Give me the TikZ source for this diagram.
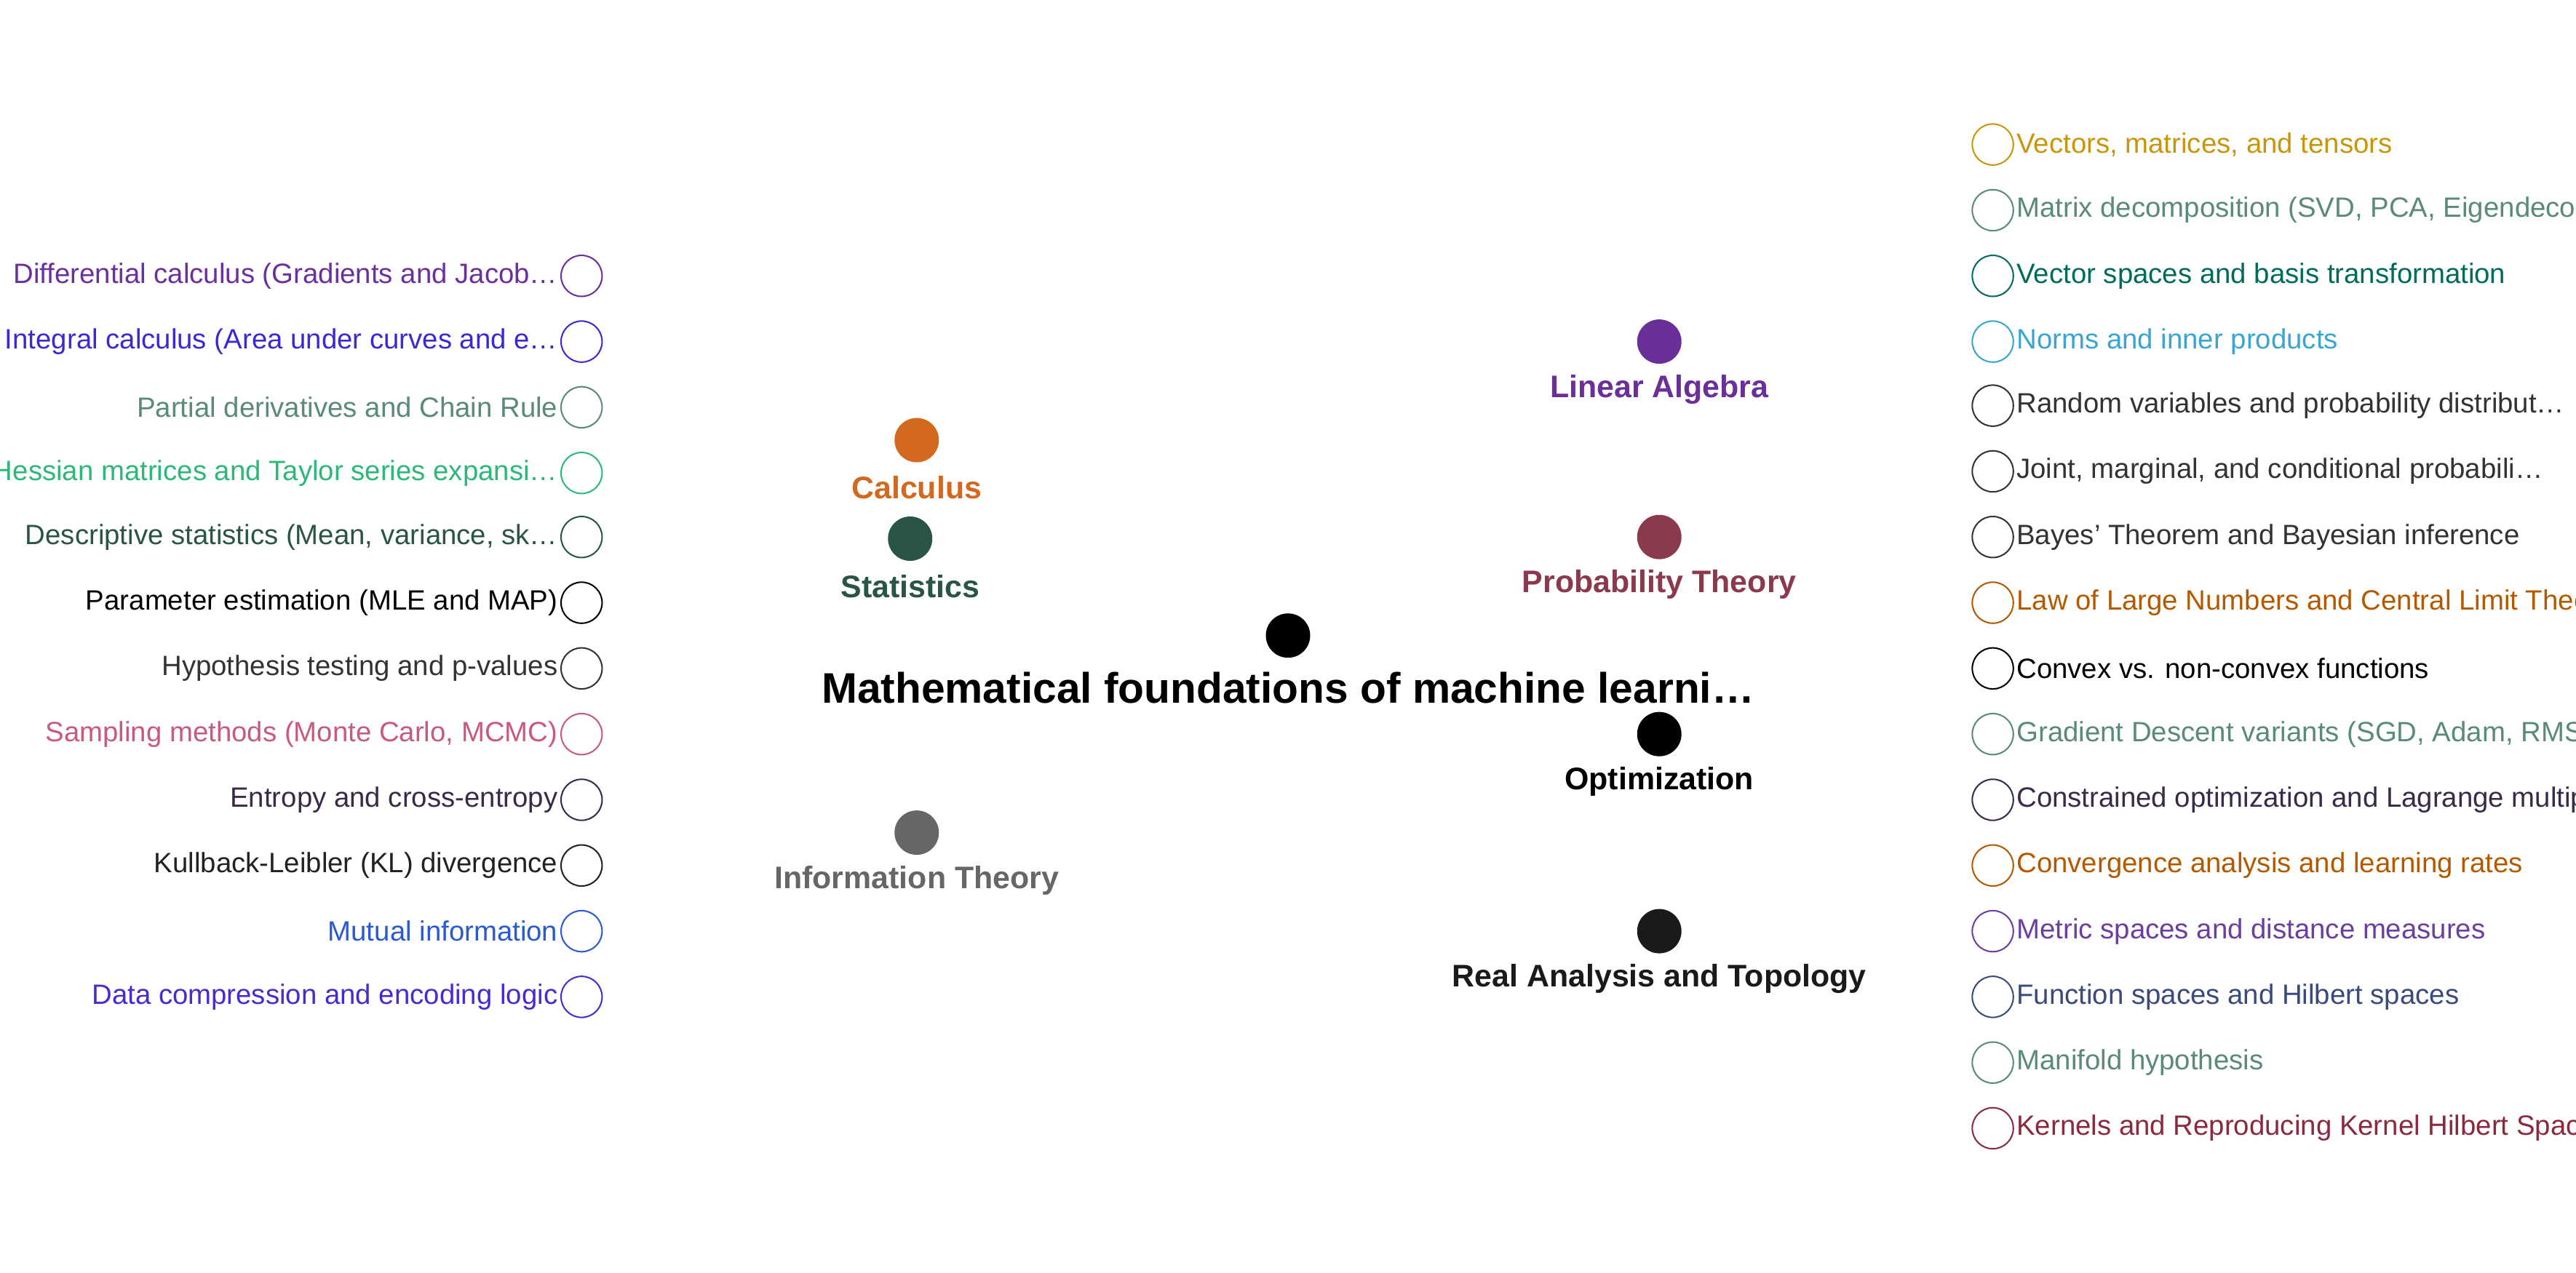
\documentclass[tikz,border=0pt]{standalone}
\usepackage{fontspec}
\setmainfont{Liberation Sans}
\usetikzlibrary{backgrounds,calc}
\begin{document}
\begin{tikzpicture}[x=1pt,y=-1pt,
  leaf/.style={circle,draw=#1,fill=white,minimum size=25pt,inner sep=0pt,line width=0.9pt},
  hub/.style={circle,fill=#1,minimum size=27pt,inner sep=0pt},
  hublab/.style={font=\fontsize{19}{22}\selectfont\bfseries,text=#1},
  ltxt/.style={font=\fontsize{17}{20}\selectfont,text=#1},
  edge/.style={draw=#1,line width=1.4pt}]
\useasboundingbox (0,0) rectangle (1568,775);
\fill[white] (0,0) rectangle (1568,775);
\node[hub=black] (root) at (784,387) {};
\node[font=\fontsize{26}{30}\selectfont\bfseries] (roottxt) at (784,419) {Mathematical foundations of machine learni…};
% hubs
\def\hubs{la/1010/208/6B2F9A/Linear Algebra,
 pt/1010/327/8B3A4E/Probability Theory,
 op/1010/447/000000/Optimization,
 ra/1010/567/1A1A1A/Real Analysis and Topology,
 ca/558/268/D2691E/Calculus,
 st/554/328/2A5545/Statistics,
 it/558/507/666666/Information Theory}
\foreach \n/\hx/\hy/\c/\t in \hubs {
  \definecolor{hc}{HTML}{\c}
  \node[hub=hc] (\n) at (\hx,\hy) {};
  \node[hublab=hc] (\n lab) at (\hx,\hy+29) {\t};
  \pgfmathsetmacro{\dd}{(\hx-784)/2}
  \begin{scope}[on background layer]
  \draw[black!80,line width=1.4pt] (root) .. controls ($(root)+(\dd,0)$) and ($(\n)+(-\dd,0)$) .. (\n);
  \end{scope}
}
% leaves
\def\leaves{la/1/88/C8960C/B57EEB/{Vectors, matrices, and tensors},
 la/2/128/5A8A78/B57EEB/{Matrix decomposition (SVD, PCA, Eigendecomposition)},
 la/3/168/006B5B/B57EEB/{Vector spaces and basis transformation},
 la/4/208/3AA5D0/B57EEB/{Norms and inner products},
 pt/1/247/333333/E08898/{Random variables and probability distribut…},
 pt/2/287/333333/E08898/{Joint, marginal, and conditional probabili…},
 pt/3/327/333333/E08898/{Bayes' Theorem and Bayesian inference},
 pt/4/367/B35900/E08898/{Law of Large Numbers and Central Limit Theorem},
 op/1/407/000000/333333/{Convex vs. non-convex functions},
 op/2/447/5A8A78/333333/{Gradient Descent variants (SGD, Adam, RMSProp)},
 op/3/487/3A2A4A/333333/{Constrained optimization and Lagrange multipliers},
 op/4/527/B35900/333333/{Convergence analysis and learning rates},
 ra/1/567/6B3FA0/666666/{Metric spaces and distance measures},
 ra/2/607/3A4A7A/666666/{Function spaces and Hilbert spaces},
 ra/3/647/5A8A78/666666/{Manifold hypothesis},
 ra/4/687/8B2A3E/666666/{Kernels and Reproducing Kernel Hilbert Spaces}}
\foreach \h/\i/\ly/\c/\e/\t in \leaves {
  \definecolor{lc}{HTML}{\c}
  \definecolor{ec}{HTML}{\e}
  \node[leaf=lc] (\h\i) at (1213,\ly) {};
  \node[ltxt=lc,anchor=west] (\h\i t) at (1224,\ly) {\t};
  \begin{scope}[on background layer]
  \draw[edge=ec] (\h) .. controls ($(\h)+(101,0)$) and ($(\h\i)+(-101,0)$) .. (\h\i);
  \end{scope}
}
\def\lleaves{ca/1/168/6B2FA0/FFAA4C/{Differential calculus (Gradients and Jacob…},
 ca/2/208/3A2AD0/FFAA4C/{Integral calculus (Area under curves and e…},
 ca/3/248/5A8A78/FFAA4C/{Partial derivatives and Chain Rule},
 ca/4/288/2DB87A/FFAA4C/{Hessian matrices and Taylor series expansi…},
 st/1/327/2A5545/6A9A88/{Descriptive statistics (Mean, variance, sk…},
 st/2/367/000000/6A9A88/{Parameter estimation (MLE and MAP)},
 st/3/407/333333/6A9A88/{Hypothesis testing and p-values},
 st/4/447/C85A80/6A9A88/{Sampling methods (Monte Carlo, MCMC)},
 it/1/487/3A2A4A/AAAAAA/{Entropy and cross-entropy},
 it/2/527/222222/AAAAAA/{Kullback-Leibler (KL) divergence},
 it/3/567/2A5AD0/AAAAAA/{Mutual information},
 it/4/607/4A2AD0/AAAAAA/{Data compression and encoding logic}}
\foreach \h/\i/\ly/\c/\e/\t in \lleaves {
  \definecolor{lc}{HTML}{\c}
  \definecolor{ec}{HTML}{\e}
  \node[leaf=lc] (\h\i) at (354,\ly) {};
  \node[ltxt=lc,anchor=east] (\h\i t) at (343,\ly) {\t};
  \begin{scope}[on background layer]
  \draw[edge=ec] (\h) .. controls ($(\h)+(-101,0)$) and ($(\h\i)+(101,0)$) .. (\h\i);
  \end{scope}
}
\end{tikzpicture}
\end{document}
